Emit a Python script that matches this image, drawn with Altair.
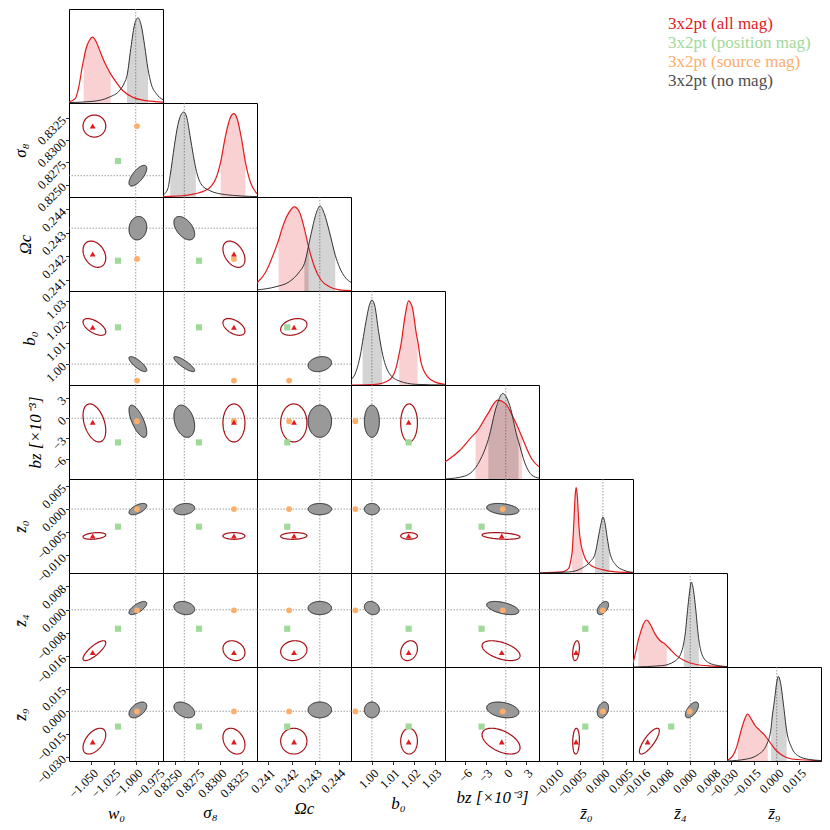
import altair as alt
import numpy as np
import pandas as pd

# ---------------- parameters / axes ----------------
param_keys = ["w0", "s8", "Oc", "b0", "bz", "z0", "z4", "z9"]
titles = ["w₀", "σ₈", "Ωc", "b₀", "bz [×10⁻³]", "z̄₀", "z̄₄", "z̄₉"]
domain_lo = [-1.0752, 0.8236, 0.24052, 0.990, -9.05, -0.0138, -0.0196, -0.0328]
domain_hi = [-0.9693, 0.8342, 0.24453, 1.0350, 4.95, 0.0065, 0.0126, 0.0292]
tick_values = [
    [-1.050, -1.025, -1.000, -0.975],
    [0.8250, 0.8275, 0.8300, 0.8325],
    [0.241, 0.242, 0.243, 0.244],
    [1.00, 1.01, 1.02, 1.03],
    [-6, -3, 0, 3],
    [-0.010, -0.005, 0.000, 0.005],
    [-0.016, -0.008, 0.000, 0.008],
    [-0.030, -0.015, 0.000, 0.015],
]
tick_format = [".3f", ".4f", ".3f", ".2f", "d", ".3f", ".3f", ".3f"]
fiducial = [-1.0, 0.826, 0.2432, 1.0, 0.0, 0.0, 0.0, 0.0]

# ---------------- best-fit markers ----------------
best_allmag = [-1.0485, 0.8316, 0.24210, 1.0176, -0.6, -0.0058, -0.0146, -0.0202]
best_posmag = [-1.0200, 0.82766, 0.24181, 1.0176, -3.6, -0.0038, -0.0065, -0.0101]
best_srcmag = [-0.9986, 0.8316, 0.24189, 0.9921, -0.45, 0.0, -0.0002, -0.0001]

# ---------------- 68% contours (centre, half extent, correlation) ----------------
nomag_center = [-0.9976, 0.8260, 0.2432, 1.0000, -0.45, 0.0000, 0.0006, 0.0009]
nomag_half = [0.0100, 0.00117, 0.00050, 0.0036, 2.4, 0.00122, 0.00226, 0.0052]
allmag_center = [-1.0466, 0.8316, 0.24209, 1.0178, -0.7, -0.0058, -0.0140, -0.0197]
allmag_half = [0.0128, 0.00124, 0.00056, 0.0040, 2.83, 0.00072, 0.0034, 0.0085]
rho_nomag = [
    [],
    [0.7],
    [0.1, -0.5],
    [-0.8, -0.85, 0.2],
    [-0.7, -0.3, 0.0, 0.0],
    [0.6, 0.2, 0.0, 0.0, -0.3],
    [0.7, -0.2, 0.0, -0.2, -0.5, 0.5],
    [0.5, -0.4, 0.0, 0.0, -0.3, 0.3, 0.6],
]
rho_allmag = [
    [],
    [0.0],
    [-0.3, -0.4],
    [-0.6, -0.5, 0.3],
    [-0.4, 0.0, 0.0, 0.0],
    [0.3, 0.0, 0.1, 0.0, -0.3],
    [0.8, -0.2, 0.1, 0.2, -0.5, 0.3],
    [0.5, -0.3, 0.0, 0.0, -0.5, 0.1, 0.8],
]

# ---------------- 1D marginals (value, height as fraction of panel) ----------------
marg_allmag = {
    "w0": [(-1.0755, 0.01), (-1.0680, 0.05), (-1.0640, 0.18), (-1.0600, 0.40), (-1.0587, 0.46),
           (-1.0560, 0.58), (-1.0520, 0.67), (-1.0489, 0.70), (-1.0450, 0.66), (-1.0406, 0.56),
           (-1.0350, 0.43), (-1.0283, 0.31), (-1.0219, 0.22), (-1.0144, 0.13), (-1.0031, 0.06),
           (-0.9881, 0.025), (-0.9693, 0.01)],
    "s8": [(0.8236, 0.004), (0.8262, 0.018), (0.82843, 0.071), (0.82955, 0.195), (0.83010, 0.372),
           (0.83066, 0.656), (0.83122, 0.851), (0.83159, 0.887), (0.83196, 0.833), (0.83245, 0.621),
           (0.83289, 0.372), (0.83345, 0.16), (0.8342, 0.035)],
    "Oc": [(0.24050, 0.081), (0.24090, 0.205), (0.24126, 0.417), (0.24144, 0.54), (0.24161, 0.68),
           (0.24190, 0.841), (0.24211, 0.894), (0.24233, 0.841), (0.24254, 0.664), (0.24272, 0.47),
           (0.24297, 0.258), (0.24325, 0.117), (0.24361, 0.046), (0.24403, 0.011), (0.24453, 0.004)],
    "b0": [(0.990, 0.0), (1.00194, 0.007), (1.00831, 0.053), (1.01150, 0.177), (1.01309, 0.337),
           (1.01389, 0.426), (1.01596, 0.745), (1.01755, 0.894), (1.01946, 0.816), (1.02137, 0.532),
           (1.02185, 0.48), (1.02345, 0.248), (1.02663, 0.089), (1.03061, 0.028), (1.0350, 0.007)],
    "bz": [(-9.05, 0.18), (-6.9, 0.30), (-4.65, 0.48), (-4.5, 0.49), (-2.7, 0.69), (-1.2, 0.84),
           (-0.15, 0.81), (1.35, 0.62), (2.4, 0.45), (2.85, 0.37), (3.9, 0.21), (4.95, 0.13)],
    "z0": [(-0.0138, 0.0), (-0.00873, 0.011), (-0.00744, 0.046), (-0.00672, 0.196), (-0.00665, 0.22),
           (-0.00629, 0.518), (-0.00601, 0.804), (-0.00579, 0.911), (-0.00551, 0.804), (-0.00515, 0.482),
           (-0.00458, 0.268), (-0.00436, 0.23), (-0.00372, 0.143), (-0.00229, 0.071), (-0.00014, 0.036),
           (0.00272, 0.011), (0.0065, 0.004)],
    "z4": [(-0.0197, 0.03), (-0.01832, 0.207), (-0.01775, 0.29), (-0.01718, 0.35), (-0.01603, 0.457),
           (-0.01489, 0.50), (-0.01374, 0.457), (-0.01203, 0.35), (-0.01031, 0.279), (-0.00859, 0.243),
           (-0.00802, 0.225), (-0.00688, 0.189), (-0.00459, 0.118), (-0.00171, 0.064), (0.00171, 0.029),
           (0.00628, 0.011), (0.0126, 0.004)],
    "z9": [(-0.0328, 0.007), (-0.02902, 0.054), (-0.02618, 0.161), (-0.02553, 0.2), (-0.02291, 0.357),
           (-0.02072, 0.464), (-0.01919, 0.50), (-0.01679, 0.446), (-0.01417, 0.375), (-0.01089, 0.321),
           (-0.00762, 0.268), (-0.00588, 0.23), (-0.00434, 0.196), (-0.00107, 0.125), (0.00330, 0.064),
           (0.00984, 0.021), (0.0292, 0.004)],
}
marg_nomag = {
    "w0": [(-1.0755, 0.004), (-1.0481, 0.018), (-1.0294, 0.064), (-1.0181, 0.134), (-1.0125, 0.22),
           (-1.0099, 0.29), (-1.0050, 0.62), (-1.0012, 0.84), (-0.9975, 0.905), (-0.9937, 0.82),
           (-0.9900, 0.61), (-0.9862, 0.36), (-0.9825, 0.20), (-0.9769, 0.10), (-0.9693, 0.035)],
    "s8": [(0.8236, 0.02), (0.82415, 0.09), (0.82441, 0.23), (0.82489, 0.55), (0.82526, 0.76),
           (0.82564, 0.876), (0.82594, 0.904), (0.82627, 0.851), (0.82664, 0.656), (0.82702, 0.443),
           (0.82731, 0.30), (0.82787, 0.142), (0.82880, 0.071), (0.83066, 0.025), (0.8342, 0.004)],
    "Oc": [(0.24050, 0.011), (0.24133, 0.046), (0.24190, 0.099), (0.24233, 0.205), (0.24254, 0.29),
           (0.24282, 0.60), (0.24304, 0.823), (0.24321, 0.905), (0.24339, 0.823), (0.24361, 0.629),
           (0.24386, 0.38), (0.24403, 0.258), (0.24432, 0.134), (0.24453, 0.092)],
    "b0": [(0.990, 0.053), (0.99239, 0.142), (0.99478, 0.355), (0.99556, 0.46), (0.99716, 0.674),
           (0.99907, 0.869), (1.00002, 0.904), (1.00130, 0.851), (1.00321, 0.567), (1.00480, 0.36),
           (1.00831, 0.124), (1.01309, 0.043), (1.02106, 0.007), (1.0350, 0.0)],
    "bz": [(-9.05, 0.0), (-6.15, 0.03), (-3.9, 0.19), (-2.6, 0.42), (-1.35, 0.78), (-0.45, 0.91),
           (0.6, 0.78), (1.65, 0.46), (1.9, 0.40), (2.85, 0.17), (3.9, 0.04), (4.95, 0.01)],
    "z0": [(-0.0138, 0.0), (-0.0073, 0.011), (-0.00444, 0.054), (-0.00265, 0.125), (-0.00172, 0.20),
           (-0.00086, 0.411), (-0.00036, 0.536), (0.0, 0.596), (0.00043, 0.536), (0.00093, 0.375),
           (0.00143, 0.23), (0.00272, 0.089), (0.00451, 0.029), (0.0065, 0.007)],
    "z4": [(-0.0197, 0.0), (-0.00974, 0.014), (-0.00516, 0.064), (-0.00287, 0.171), (-0.00219, 0.26),
           (-0.00173, 0.35), (-0.00081, 0.636), (0.0, 0.85), (0.00033, 0.904), (0.00113, 0.814),
           (0.00193, 0.60), (0.00285, 0.314), (0.00296, 0.29), (0.00399, 0.136), (0.00628, 0.046),
           (0.00972, 0.014), (0.0126, 0.004)],
    "z9": [(-0.0328, 0.0), (-0.02072, 0.018), (-0.01199, 0.071), (-0.00653, 0.179), (-0.00369, 0.357),
           (-0.00326, 0.429), (-0.00151, 0.643), (0.00002, 0.839), (0.00111, 0.90), (0.00242, 0.839),
           (0.00439, 0.607), (0.00657, 0.32), (0.00984, 0.143), (0.01421, 0.054), (0.02076, 0.018),
           (0.0292, 0.004)],
}
band_allmag = {"w0": (-1.0587, -1.0283), "s8": (0.83010, 0.83289), "Oc": (0.24144, 0.24272),
               "b0": (1.01309, 1.02185), "bz": (-4.5, 2.4), "z0": (-0.00665, -0.00436),
               "z4": (-0.01775, -0.00802), "z9": (-0.02553, -0.00588)}
band_nomag = {"w0": (-1.0099, -0.9862), "s8": (0.82441, 0.82731), "Oc": (0.24254, 0.24386),
              "b0": (0.99556, 1.00480), "bz": (-2.6, 1.9), "z0": (-0.00172, 0.00143),
              "z4": (-0.00219, 0.00296), "z9": (-0.00369, 0.00657)}

legend_labels = ["3x2pt (all mag)", "3x2pt (position mag)", "3x2pt (source mag)", "3x2pt (no mag)"]
legend_colors = ["#e31a1c", "#a1d99b", "#fdae6b", "#4d4d4d"]

# ---------------- styling ----------------
RED = "#e31a1c"
RED_DARK = "#a50f15"
GREEN = "#a1d99b"
ORANGE = "#fdae6b"
GRAY_LINE = "#333333"
GRAY_FILL = "#999999"
FONT = "Liberation Serif"
W = 94


def xscale(k):
    return alt.Scale(domain=[domain_lo[k], domain_hi[k]], nice=False, zero=False)


def make_axis(k, show, orient):
    if not show:
        return None
    common = dict(values=tick_values[k], format=tick_format[k], title=titles[k],
                  labelAngle=-45, tickSize=3.5, labelPadding=2, grid=False, domain=False,
                  labelFont=FONT, labelFontSize=12.5, titleFont=FONT, titleFontSize=17,
                  titleFontStyle="italic", titleFontWeight="normal", labelOverlap=False,
                  labelFlush=False, labelBound=False, tickColor="black", labelColor="black",
                  titleColor="black", minExtent=0, tickWidth=0.8)
    if orient == "x":
        return alt.Axis(labelAlign="right", labelBaseline="top", titlePadding=5, **common)
    return alt.Axis(labelAlign="right", labelBaseline="middle", titlePadding=5, **common)


def ellipse_df(cx, cy, hx, hy, rho, n=70):
    t = np.linspace(np.pi, 0, n)
    u = np.cos(t)
    s = np.sqrt(max(1 - rho ** 2, 0.0))
    yc = cy + hy * rho * u
    dy = hy * s * np.sqrt(np.clip(1 - u ** 2, 0, 1))
    return pd.DataFrame({"x": cx + hx * u, "y": yc - dy, "y2": yc + dy})


def panel2d(i, j):
    xs, ys = xscale(j), xscale(i)
    xa = make_axis(j, i == 7, "x")
    ya = make_axis(i, j == 0, "y")

    def X(f):
        return alt.X(f, type="quantitative", scale=xs, axis=xa)

    def Y(f):
        return alt.Y(f, type="quantitative", scale=ys, axis=ya)

    fid = pd.DataFrame({"fx": [fiducial[j]], "fy": [fiducial[i]]})
    rx = alt.Chart(fid).mark_rule(color="#888888", strokeDash=[1.5, 1.5], strokeWidth=0.8).encode(x=X("fx"))
    ry = alt.Chart(fid).mark_rule(color="#888888", strokeDash=[1.5, 1.5], strokeWidth=0.8).encode(y=Y("fy"))
    g = ellipse_df(nomag_center[j], nomag_center[i], nomag_half[j], nomag_half[i], rho_nomag[i][j])
    r = ellipse_df(allmag_center[j], allmag_center[i], allmag_half[j], allmag_half[i], rho_allmag[i][j])
    ge = alt.Chart(g).mark_area(fill=GRAY_FILL, stroke="#222222", strokeWidth=1, clip=True).encode(
        x=X("x"), y=Y("y"), y2="y2")
    re = alt.Chart(r).mark_area(fillOpacity=0, stroke=RED_DARK, strokeWidth=1.2, clip=True).encode(
        x=X("x"), y=Y("y"), y2="y2")
    pts = pd.DataFrame({"x": [best_posmag[j]], "y": [best_posmag[i]]})
    sq = alt.Chart(pts).mark_point(shape="square", filled=True, color=GREEN, size=38, opacity=1).encode(
        x=X("x"), y=Y("y"))
    pts2 = pd.DataFrame({"x": [best_srcmag[j]], "y": [best_srcmag[i]]})
    ci = alt.Chart(pts2).mark_point(shape="circle", filled=True, color=ORANGE, size=34, opacity=1).encode(
        x=X("x"), y=Y("y"))
    pts3 = pd.DataFrame({"x": [best_allmag[j]], "y": [best_allmag[i]]})
    tr = alt.Chart(pts3).mark_point(shape="triangle-up", filled=True, color=RED, size=34, opacity=1).encode(
        x=X("x"), y=Y("y"))
    return alt.layer(rx, ry, ge, re, sq, ci, tr).properties(width=W, height=W)


def paneldiag(i):
    k = param_keys[i]
    xs = xscale(i)
    ys = alt.Scale(domain=[0, 1], nice=False, zero=False)
    xa = make_axis(i, i == 7, "x")
    layers = []
    fid = pd.DataFrame({"fx": [fiducial[i]]})
    layers.append(alt.Chart(fid).mark_rule(color="#888888", strokeDash=[1.5, 1.5], strokeWidth=0.8).encode(
        x=alt.X("fx:Q", scale=xs, axis=xa)))
    for marg, band, fc, fo in [(marg_allmag, band_allmag, RED, 0.2),
                               (marg_nomag, band_nomag, "#000000", 0.17)]:
        df = pd.DataFrame(marg[k], columns=["x", "y"])
        lo, hi = band[k]
        dfb = df[(df.x >= lo - 1e-12) & (df.x <= hi + 1e-12)]
        layers.append(alt.Chart(dfb).mark_area(color=fc, opacity=fo, interpolate="monotone", clip=True).encode(
            x=alt.X("x:Q", scale=xs, axis=xa), y=alt.Y("y:Q", scale=ys, axis=None)))
    for marg, lc, lw in [(marg_allmag, RED, 1.2), (marg_nomag, GRAY_LINE, 1.0)]:
        df = pd.DataFrame(marg[k], columns=["x", "y"])
        layers.append(alt.Chart(df).mark_line(color=lc, strokeWidth=lw, interpolate="monotone", clip=True).encode(
            x=alt.X("x:Q", scale=xs, axis=xa), y=alt.Y("y:Q", scale=ys, axis=None)))
    return alt.layer(*layers).properties(width=W, height=W)


def blank():
    return alt.Chart(pd.DataFrame({"v": [0]})).mark_point(opacity=0).properties(
        width=W, height=W, view=alt.ViewBackground(strokeOpacity=0))


def legend_cell():
    df = pd.DataFrame({"label": legend_labels, "col": legend_colors})
    return alt.Chart(df).mark_text(align="left", baseline="middle", font=FONT, fontSize=17).encode(
        x=alt.value(35),
        y=alt.Y("label:N", sort=legend_labels, axis=None,
                scale=alt.Scale(type="point", range=[15, 72], padding=0)),
        text="label:N",
        color=alt.Color("col:N", scale=None),
    ).properties(width=W, height=W, view=alt.ViewBackground(strokeOpacity=0))


cells = []
for i in range(8):
    for j in range(8):
        if j < i:
            cells.append(panel2d(i, j))
        elif j == i:
            cells.append(paneldiag(i))
        elif i == 0 and j == 6:
            cells.append(legend_cell())
        else:
            cells.append(blank())

chart = alt.concat(*cells, columns=8, spacing=0, bounds="flush").resolve_scale(
    x="independent", y="independent"
).properties(
    padding={"left": 2, "top": 0, "right": 0, "bottom": 0}
).configure_view(stroke="black", strokeWidth=1)

chart.save("out.html", embed_options={"renderer": "svg", "actions": False})
